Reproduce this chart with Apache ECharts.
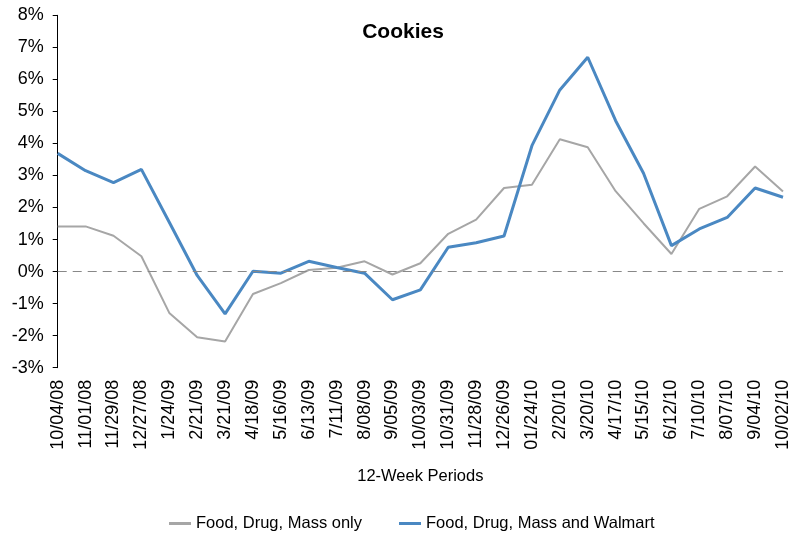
<!DOCTYPE html>
<html>
<head>
<meta charset="utf-8">
<script src="https://cdn.jsdelivr.net/npm/echarts@6/dist/echarts.min.js"></script>
<style>html,body{margin:0;padding:0;background:#fff}#c{width:792px;height:540px}</style>
</head>
<body>
<div id="c"></div>
<script>
const categories = ["10/04/08","11/01/08","11/29/08","12/27/08","1/24/09","2/21/09","3/21/09","4/18/09","5/16/09","6/13/09","7/11/09","8/08/09","9/05/09","10/03/09","10/31/09","11/28/09","12/26/09","01/24/10","2/20/10","3/20/10","4/17/10","5/15/10","6/12/10","7/10/10","8/07/10","9/04/10","10/02/10"];
const fdmOnly = [1.41,1.41,1.12,0.48,-1.29,-2.05,-2.18,-0.70,-0.36,0.05,0.12,0.32,-0.09,0.26,1.18,1.62,2.61,2.71,4.13,3.88,2.51,1.51,0.55,1.96,2.35,3.28,2.50];
const fdmWalmart = [3.69,3.15,2.78,3.19,1.54,-0.12,-1.32,0.01,-0.05,0.32,0.13,-0.05,-0.88,-0.57,0.76,0.90,1.11,3.93,5.67,6.69,4.71,3.07,0.81,1.33,1.69,2.61,2.32];
const seriesNames = ["Food, Drug, Mass only","Food, Drug, Mass and Walmart"];
const yTicks = {min:-3, max:8, interval:1};

const chart = echarts.init(document.getElementById('c'));
const font = '"Liberation Sans", Arial, sans-serif';
chart.setOption({
  animation:false,
  title:{text:'Cookies', left:398, top:17, textAlign:'center',
    textStyle:{fontFamily:font, fontSize:21, fontWeight:'bold', color:'#000'}},
  grid:{left:57.7, right:9, top:15.3, bottom:172.3, containLabel:false},
  legend:{bottom:3, left:164, itemGap:37, itemWidth:22, itemHeight:3, icon:'rect',
    textStyle:{fontFamily:font, fontSize:16.5, color:'#000'},
    data:[{name:seriesNames[0], itemStyle:{color:'#a6a6a6'}},{name:seriesNames[1], itemStyle:{color:'#4a88c2'}}]},
  xAxis:{type:'category', data:categories, boundaryGap:false,
    axisLine:{show:false}, axisTick:{show:false},
    axisLabel:{rotate:90, margin:12, interval:0, fontFamily:font, fontSize:18, color:'#000'},
    name:'12-Week Periods', nameLocation:'middle', nameGap:100,
    nameTextStyle:{fontFamily:font, fontSize:16.5, color:'#000'}},
  yAxis:{type:'value', min:yTicks.min, max:yTicks.max, interval:yTicks.interval,
    axisLine:{show:true, lineStyle:{color:'#000', width:1}},
    axisTick:{show:true, length:5, lineStyle:{color:'#000'}},
    splitLine:{show:false},
    axisLabel:{formatter:'{value}%', margin:14, fontFamily:font, fontSize:18, color:'#000'}},
  series:[
    {name:seriesNames[0], type:'line', data:fdmOnly, symbol:'none',
      lineStyle:{color:'#a6a6a6', width:2}, itemStyle:{color:'#a6a6a6'},
      markLine:{silent:true, symbol:'none', label:{show:false},
        lineStyle:{color:'#888', width:1.2, type:[9,6]}, data:[{yAxis:0}]}},
    {name:seriesNames[1], type:'line', data:fdmWalmart, symbol:'none',
      lineStyle:{color:'#4a88c2', width:3}, itemStyle:{color:'#4a88c2'}}
  ]
});
</script>
</body>
</html>
